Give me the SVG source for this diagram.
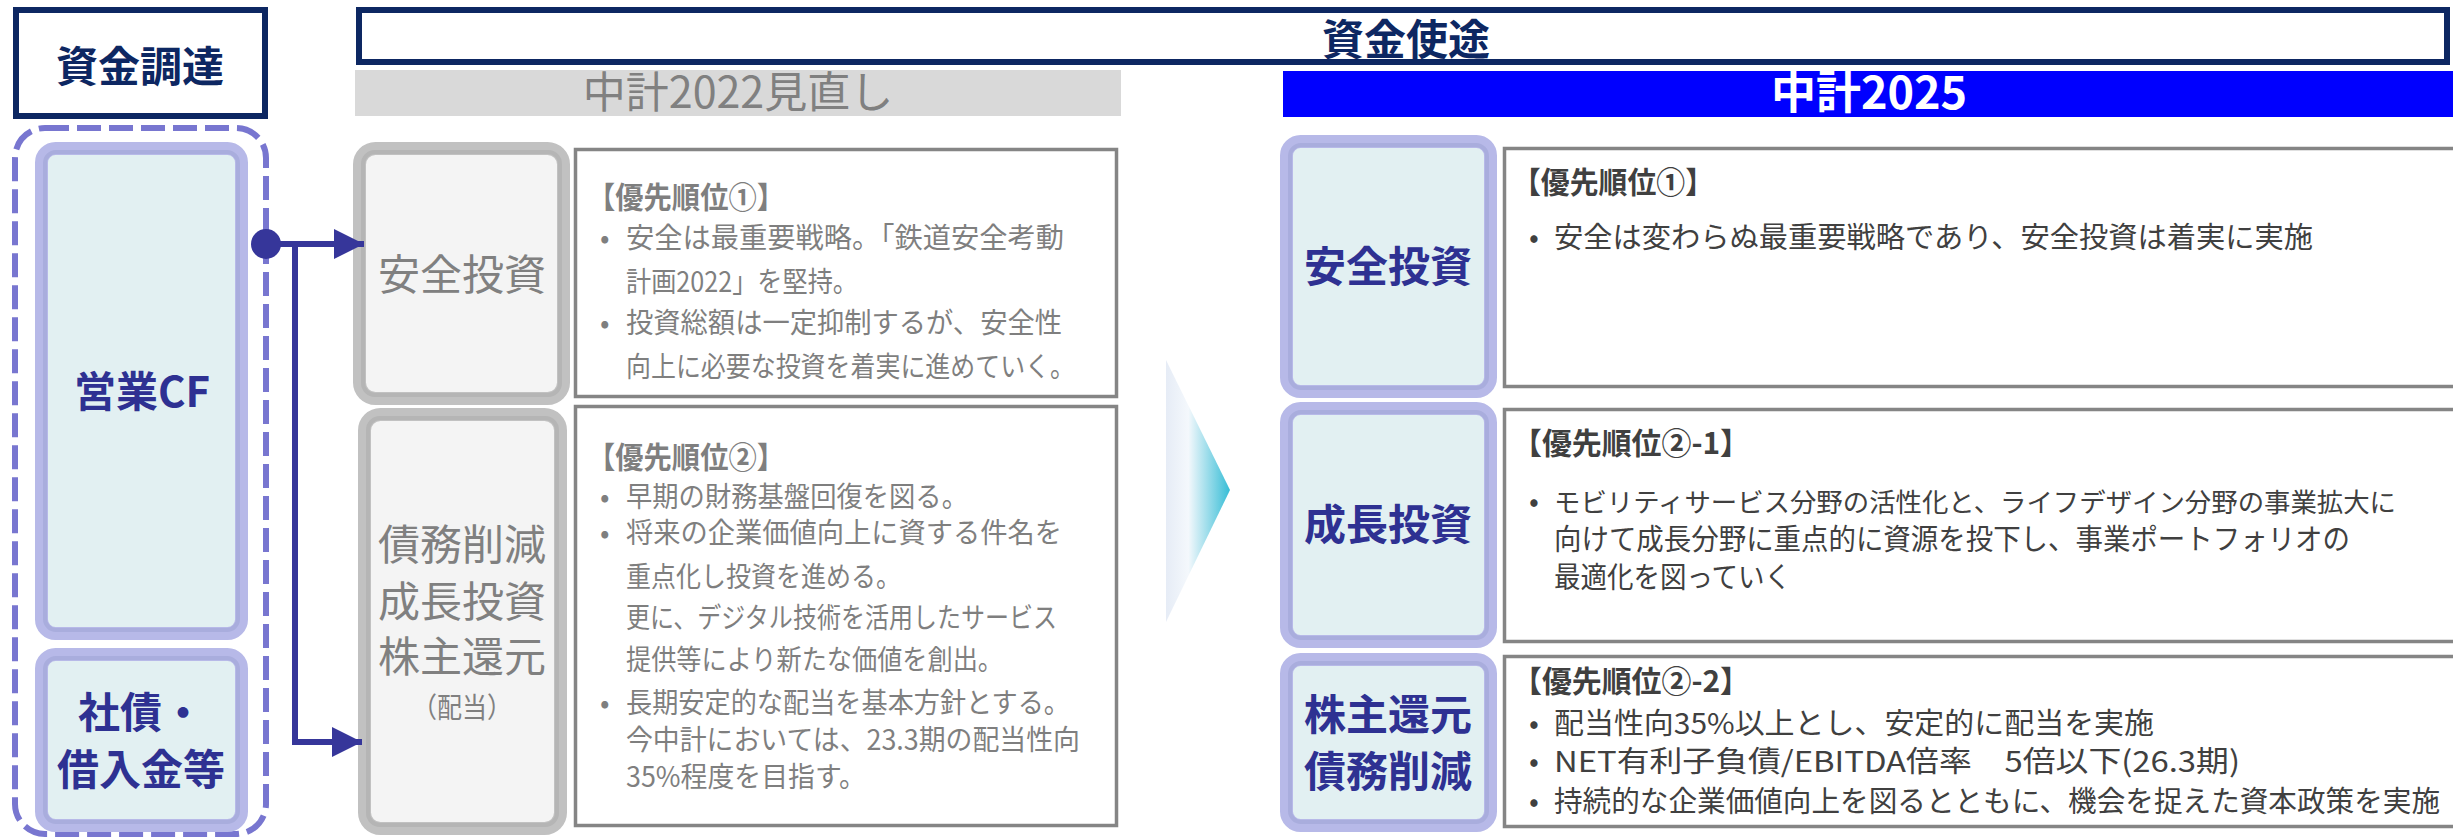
<svg xmlns="http://www.w3.org/2000/svg" width="2453" height="839" viewBox="0 0 2453 839">
<style>
text{font-family:"Noto Sans CJK JP","Noto Sans",sans-serif}
.hdr{fill:#fff;stroke:#0d2762;stroke-width:6}
.hdrt{font-size:42px;font-weight:700;fill:#0d2762;text-anchor:middle}
.lav{fill:#e2f0f2;stroke:#b7b9e8;stroke-width:13}
.lavin{fill:none;stroke:#a9addd;stroke-width:4}
.lavt{font-size:42px;font-weight:700;fill:#2e3192;text-anchor:middle}
.gry{fill:#f4f4f4;stroke:#c1c1c1;stroke-width:13}
.gryin{fill:none;stroke:#b5b5b5;stroke-width:4}
.gryt{font-size:42px;fill:#808080;text-anchor:middle}
.desc{fill:#fff;stroke:#858585;stroke-width:3.5}
.lt{font-size:28px;fill:#7f7f7f}
.lb{font-size:30px;fill:#7f7f7f;font-weight:700}
.rt{font-size:29px;fill:#404040}
.rb{font-size:30px;fill:#404040;font-weight:700}
.conn{stroke:#36369a;stroke-width:6;fill:none}
</style>
<defs>
<marker id="ah" markerWidth="30" markerHeight="30" refX="30" refY="15" orient="auto" markerUnits="userSpaceOnUse">
<path d="M0,0 L30,15 L0,30 Z" fill="#36369a"/>
</marker>
<linearGradient id="chev" x1="0" y1="0" x2="1" y2="0">
<stop offset="0" stop-color="#e6ecf6"/>
<stop offset="0.35" stop-color="#f4f8fc"/>
<stop offset="1" stop-color="#36bdd6"/>
</linearGradient>
</defs>

<g id="header-source">
<rect class="hdr" x="16" y="10" width="249" height="106"/>
<text class="hdrt" x="140" y="82">資金調達</text>
</g>

<g id="header-use">
<rect class="hdr" x="359" y="10" width="2088" height="52"/>
<text class="hdrt" x="1406" y="55">資金使途</text>
</g>

<g id="band-2022">
<rect x="355" y="70" width="766" height="46" fill="#d9d9d9"/>
<text x="738" y="108" font-size="43" fill="#808080" text-anchor="middle">中計2022見直し</text>
</g>

<g id="band-2025">
<rect x="1283" y="71" width="1170" height="46" fill="#0000ff"/>
<text x="1869" y="109" font-size="45" font-weight="700" fill="#fff" text-anchor="middle">中計2025</text>
</g>

<g id="source-group">
<rect x="15" y="128" width="251" height="706" rx="30" fill="none" stroke="#7876d0" stroke-width="6" stroke-dasharray="24 8"/>
</g>

<g id="eigyo-cf">
<rect class="lav" x="41.5" y="148.5" width="200" height="485" rx="14"/>
<rect class="lavin" x="45" y="152" width="193" height="478" rx="11"/>
<text class="lavt" x="142" y="407">営業CF</text>
</g>

<g id="shasai">
<rect class="lav" x="41.5" y="654.5" width="200" height="171" rx="14"/>
<rect class="lavin" x="45" y="658" width="193" height="164" rx="11"/>
<text class="lavt" x="141" y="728">社債・</text>
<text class="lavt" x="141" y="785">借入金等</text>
</g>

<g id="old-safety">
<rect class="gry" x="359.5" y="148.5" width="204" height="250" rx="16"/>
<rect class="gryin" x="363" y="152" width="197" height="243" rx="12"/>
<text class="gryt" x="462" y="290">安全投資</text>
</g>

<g id="old-safety-desc">
<rect class="desc" x="575.5" y="149.5" width="541" height="247"/>
<text class="lb" x="587" y="208" textLength="198" lengthAdjust="spacingAndGlyphs">【優先順位①】</text>
<text class="lt" x="600" y="248">•</text>
<text class="lt" x="626" y="248" textLength="438" lengthAdjust="spacingAndGlyphs">安全は最重要戦略。「鉄道安全考動</text>
<text class="lt" x="626" y="292" textLength="232" lengthAdjust="spacingAndGlyphs">計画2022」を堅持。</text>
<text class="lt" x="600" y="333">•</text>
<text class="lt" x="626" y="333" textLength="436" lengthAdjust="spacingAndGlyphs">投資総額は一定抑制するが、安全性</text>
<text class="lt" x="626" y="377" textLength="449" lengthAdjust="spacingAndGlyphs">向上に必要な投資を着実に進めていく。</text>
</g>

<g id="old-mixed">
<rect class="gry" x="364.5" y="414.5" width="196" height="414" rx="16"/>
<rect class="gryin" x="368" y="418" width="189" height="407" rx="12"/>
<text class="gryt" x="462" y="560">債務削減</text>
<text class="gryt" x="462" y="617">成長投資</text>
<text class="gryt" x="462" y="672">株主還元</text>
<text x="462" y="718" font-size="28" fill="#808080" text-anchor="middle" textLength="100" lengthAdjust="spacingAndGlyphs">（配当）</text>
</g>

<g id="old-mixed-desc">
<rect class="desc" x="575.5" y="406.5" width="541" height="419"/>
<text class="lb" x="587" y="468" textLength="198" lengthAdjust="spacingAndGlyphs">【優先順位②】</text>
<text class="lt" x="600" y="507">•</text>
<text class="lt" x="626" y="507" textLength="342" lengthAdjust="spacingAndGlyphs">早期の財務基盤回復を図る。</text>
<text class="lt" x="600" y="543">•</text>
<text class="lt" x="626" y="543" textLength="436" lengthAdjust="spacingAndGlyphs">将来の企業価値向上に資する件名を</text>
<text class="lt" x="626" y="587" textLength="275" lengthAdjust="spacingAndGlyphs">重点化し投資を進める。</text>
<text class="lt" x="626" y="628" textLength="431" lengthAdjust="spacingAndGlyphs">更に、デジタル技術を活用したサービス</text>
<text class="lt" x="626" y="670" textLength="377" lengthAdjust="spacingAndGlyphs">提供等により新たな価値を創出。</text>
<text class="lt" x="600" y="713">•</text>
<text class="lt" x="626" y="713" textLength="444" lengthAdjust="spacingAndGlyphs">長期安定的な配当を基本方針とする。</text>
<text class="lt" x="626" y="750" textLength="454" lengthAdjust="spacingAndGlyphs">今中計においては、23.3期の配当性向</text>
<text class="lt" x="626" y="787" textLength="240" lengthAdjust="spacingAndGlyphs">35%程度を目指す。</text>
</g>

<g id="transition-arrow">
<polygon points="1166,360 1230,490 1166,622" fill="url(#chev)"/>
</g>

<g id="new-safety">
<rect class="lav" x="1286.5" y="141.5" width="204" height="250" rx="14"/>
<rect class="lavin" x="1290" y="145" width="197" height="243" rx="11"/>
<text class="lavt" x="1388" y="282">安全投資</text>
</g>

<g id="new-safety-desc">
<rect class="desc" x="1504.5" y="148.5" width="960" height="238"/>
<text class="rb" x="1512" y="193" textLength="202" lengthAdjust="spacingAndGlyphs">【優先順位①】</text>
<text class="rt" x="1529" y="248">•</text>
<text class="rt" x="1554" y="248" textLength="759" lengthAdjust="spacingAndGlyphs">安全は変わらぬ最重要戦略であり、安全投資は着実に実施</text>
</g>

<g id="new-growth">
<rect class="lav" x="1286.5" y="408.5" width="204" height="233" rx="14"/>
<rect class="lavin" x="1290" y="412" width="197" height="226" rx="11"/>
<text class="lavt" x="1388" y="540">成長投資</text>
</g>

<g id="new-growth-desc">
<rect class="desc" x="1504.5" y="409.5" width="960" height="232"/>
<text class="rb" x="1512" y="454" textLength="238" lengthAdjust="spacingAndGlyphs">【優先順位②-1】</text>
<text class="rt" x="1529" y="512">•</text>
<text class="rt" x="1554" y="512" style="font-size:26px" textLength="842" lengthAdjust="spacingAndGlyphs">モビリティサービス分野の活性化と、ライフデザイン分野の事業拡大に</text>
<text class="rt" x="1554" y="550" textLength="796" lengthAdjust="spacingAndGlyphs">向けて成長分野に重点的に資源を投下し、事業ポートフォリオの</text>
<text class="rt" x="1554" y="588" textLength="237" lengthAdjust="spacingAndGlyphs">最適化を図っていく</text>
</g>

<g id="new-return">
<rect class="lav" x="1286.5" y="659.5" width="204" height="166" rx="14"/>
<rect class="lavin" x="1290" y="663" width="197" height="159" rx="11"/>
<text class="lavt" x="1388" y="730">株主還元</text>
<text class="lavt" x="1388" y="787">債務削減</text>
</g>

<g id="new-return-desc">
<rect class="desc" x="1504.5" y="656.5" width="960" height="170"/>
<text class="rb" x="1512" y="692" textLength="238" lengthAdjust="spacingAndGlyphs">【優先順位②-2】</text>
<text class="rt" x="1529" y="734">•</text>
<text class="rt" x="1554" y="734" textLength="600" lengthAdjust="spacingAndGlyphs">配当性向35%以上とし、安定的に配当を実施</text>
<text class="rt" x="1529" y="772">•</text>
<text class="rt" x="1554" y="772" textLength="686" lengthAdjust="spacingAndGlyphs">NET有利子負債/EBITDA倍率　5倍以下(26.3期)</text>
<text class="rt" x="1529" y="812">•</text>
<text class="rt" x="1554" y="812" textLength="886" lengthAdjust="spacingAndGlyphs">持続的な企業価値向上を図るとともに、機会を捉えた資本政策を実施</text>
</g>

<g id="connectors">
<circle cx="266" cy="244" r="15" fill="#36369a"/>
<line class="conn" x1="266" y1="244" x2="364" y2="244" marker-end="url(#ah)"/>
<polyline class="conn" points="295,244 295,742 362,742" marker-end="url(#ah)"/>
</g>
</svg>
